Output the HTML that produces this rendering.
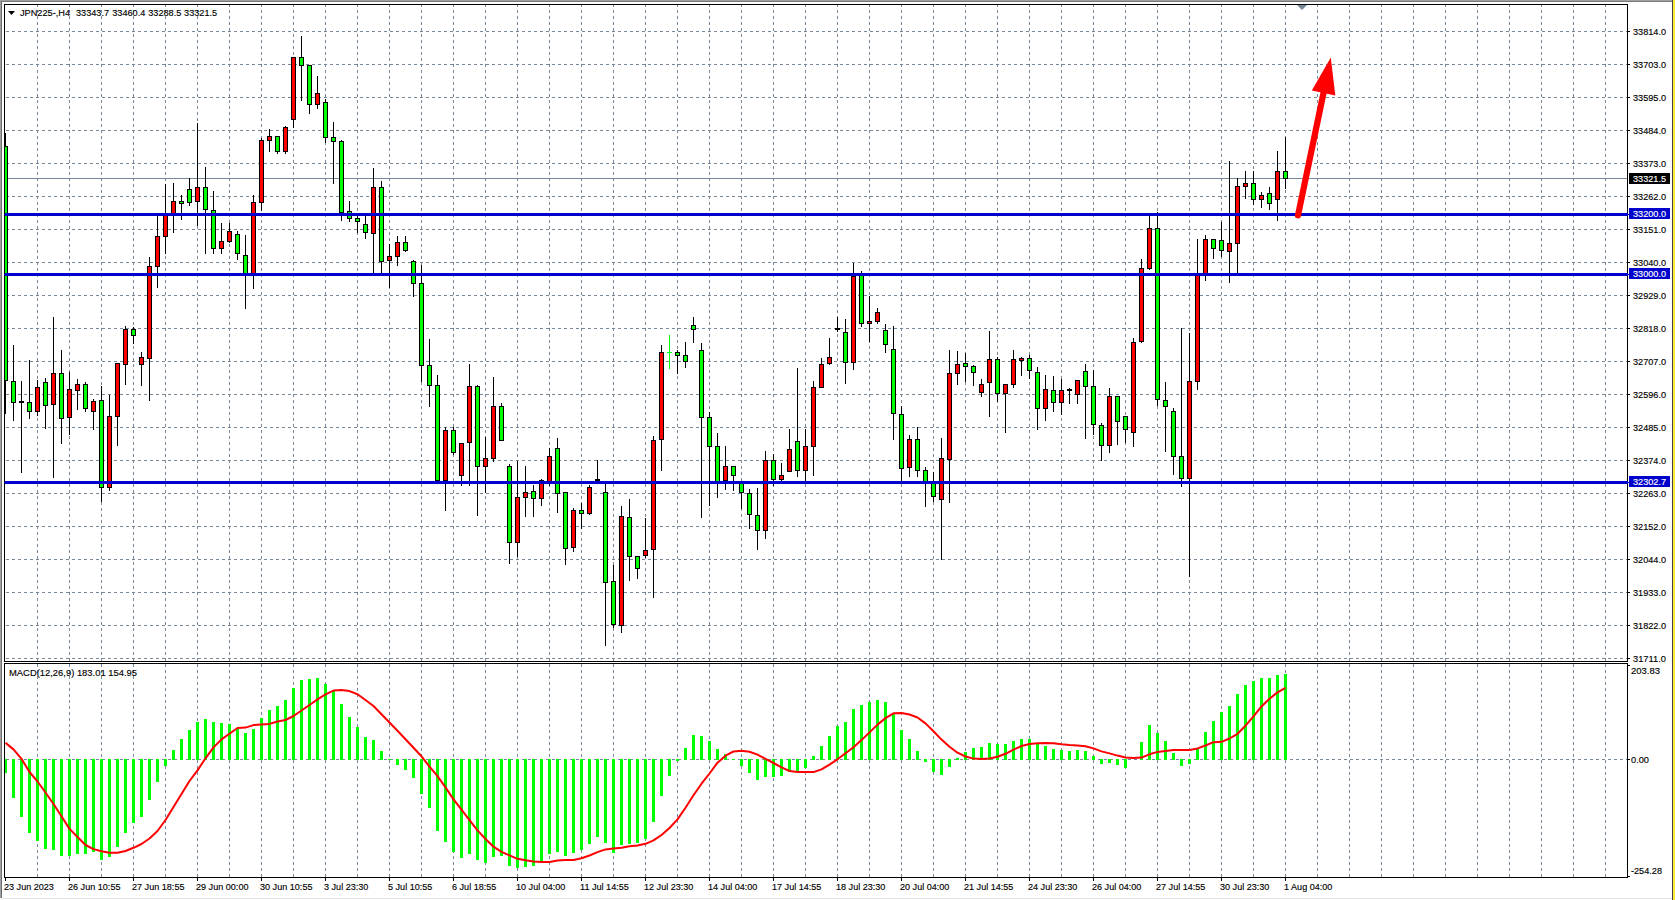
<!DOCTYPE html>
<html><head><meta charset="utf-8"><style>html,body{margin:0;padding:0;background:#fff;overflow:hidden}svg{display:block}</style></head>
<body><svg width="1675" height="900" viewBox="0 0 1675 900"><rect x="0" y="0" width="1675" height="900" fill="#ffffff"/>
<rect x="0" y="0" width="1675" height="1" fill="#a0a0a0"/>
<rect x="0" y="1" width="1672" height="1" fill="#7a7a7a"/>
<rect x="0" y="0" width="1" height="898" fill="#a0a0a0"/>
<rect x="1" y="1" width="1" height="897" fill="#6e6e6e"/>
<rect x="2" y="898" width="1670" height="1" fill="#e3e3e3"/>
<rect x="1672" y="0" width="1" height="900" fill="#44464c"/>
<rect x="1673" y="0" width="2" height="900" fill="#ffe838"/>
<g stroke="#778899" stroke-width="1" stroke-dasharray="3 3" shape-rendering="crispEdges"><line x1="37.5" y1="4" x2="37.5" y2="661" /><line x1="37.5" y1="664" x2="37.5" y2="877" /><line x1="69.5" y1="4" x2="69.5" y2="661" /><line x1="69.5" y1="664" x2="69.5" y2="877" /><line x1="101.5" y1="4" x2="101.5" y2="661" /><line x1="101.5" y1="664" x2="101.5" y2="877" /><line x1="133.5" y1="4" x2="133.5" y2="661" /><line x1="133.5" y1="664" x2="133.5" y2="877" /><line x1="165.5" y1="4" x2="165.5" y2="661" /><line x1="165.5" y1="664" x2="165.5" y2="877" /><line x1="197.5" y1="4" x2="197.5" y2="661" /><line x1="197.5" y1="664" x2="197.5" y2="877" /><line x1="229.5" y1="4" x2="229.5" y2="661" /><line x1="229.5" y1="664" x2="229.5" y2="877" /><line x1="261.5" y1="4" x2="261.5" y2="661" /><line x1="261.5" y1="664" x2="261.5" y2="877" /><line x1="293.5" y1="4" x2="293.5" y2="661" /><line x1="293.5" y1="664" x2="293.5" y2="877" /><line x1="325.5" y1="4" x2="325.5" y2="661" /><line x1="325.5" y1="664" x2="325.5" y2="877" /><line x1="357.5" y1="4" x2="357.5" y2="661" /><line x1="357.5" y1="664" x2="357.5" y2="877" /><line x1="389.5" y1="4" x2="389.5" y2="661" /><line x1="389.5" y1="664" x2="389.5" y2="877" /><line x1="421.5" y1="4" x2="421.5" y2="661" /><line x1="421.5" y1="664" x2="421.5" y2="877" /><line x1="453.5" y1="4" x2="453.5" y2="661" /><line x1="453.5" y1="664" x2="453.5" y2="877" /><line x1="485.5" y1="4" x2="485.5" y2="661" /><line x1="485.5" y1="664" x2="485.5" y2="877" /><line x1="517.5" y1="4" x2="517.5" y2="661" /><line x1="517.5" y1="664" x2="517.5" y2="877" /><line x1="549.5" y1="4" x2="549.5" y2="661" /><line x1="549.5" y1="664" x2="549.5" y2="877" /><line x1="581.5" y1="4" x2="581.5" y2="661" /><line x1="581.5" y1="664" x2="581.5" y2="877" /><line x1="613.5" y1="4" x2="613.5" y2="661" /><line x1="613.5" y1="664" x2="613.5" y2="877" /><line x1="645.5" y1="4" x2="645.5" y2="661" /><line x1="645.5" y1="664" x2="645.5" y2="877" /><line x1="677.5" y1="4" x2="677.5" y2="661" /><line x1="677.5" y1="664" x2="677.5" y2="877" /><line x1="709.5" y1="4" x2="709.5" y2="661" /><line x1="709.5" y1="664" x2="709.5" y2="877" /><line x1="741.5" y1="4" x2="741.5" y2="661" /><line x1="741.5" y1="664" x2="741.5" y2="877" /><line x1="773.5" y1="4" x2="773.5" y2="661" /><line x1="773.5" y1="664" x2="773.5" y2="877" /><line x1="805.5" y1="4" x2="805.5" y2="661" /><line x1="805.5" y1="664" x2="805.5" y2="877" /><line x1="837.5" y1="4" x2="837.5" y2="661" /><line x1="837.5" y1="664" x2="837.5" y2="877" /><line x1="869.5" y1="4" x2="869.5" y2="661" /><line x1="869.5" y1="664" x2="869.5" y2="877" /><line x1="901.5" y1="4" x2="901.5" y2="661" /><line x1="901.5" y1="664" x2="901.5" y2="877" /><line x1="933.5" y1="4" x2="933.5" y2="661" /><line x1="933.5" y1="664" x2="933.5" y2="877" /><line x1="965.5" y1="4" x2="965.5" y2="661" /><line x1="965.5" y1="664" x2="965.5" y2="877" /><line x1="997.5" y1="4" x2="997.5" y2="661" /><line x1="997.5" y1="664" x2="997.5" y2="877" /><line x1="1029.5" y1="4" x2="1029.5" y2="661" /><line x1="1029.5" y1="664" x2="1029.5" y2="877" /><line x1="1061.5" y1="4" x2="1061.5" y2="661" /><line x1="1061.5" y1="664" x2="1061.5" y2="877" /><line x1="1093.5" y1="4" x2="1093.5" y2="661" /><line x1="1093.5" y1="664" x2="1093.5" y2="877" /><line x1="1125.5" y1="4" x2="1125.5" y2="661" /><line x1="1125.5" y1="664" x2="1125.5" y2="877" /><line x1="1157.5" y1="4" x2="1157.5" y2="661" /><line x1="1157.5" y1="664" x2="1157.5" y2="877" /><line x1="1189.5" y1="4" x2="1189.5" y2="661" /><line x1="1189.5" y1="664" x2="1189.5" y2="877" /><line x1="1221.5" y1="4" x2="1221.5" y2="661" /><line x1="1221.5" y1="664" x2="1221.5" y2="877" /><line x1="1253.5" y1="4" x2="1253.5" y2="661" /><line x1="1253.5" y1="664" x2="1253.5" y2="877" /><line x1="1285.5" y1="4" x2="1285.5" y2="661" /><line x1="1285.5" y1="664" x2="1285.5" y2="877" /><line x1="1317.5" y1="4" x2="1317.5" y2="661" /><line x1="1317.5" y1="664" x2="1317.5" y2="877" /><line x1="1349.5" y1="4" x2="1349.5" y2="661" /><line x1="1349.5" y1="664" x2="1349.5" y2="877" /><line x1="1381.5" y1="4" x2="1381.5" y2="661" /><line x1="1381.5" y1="664" x2="1381.5" y2="877" /><line x1="1413.5" y1="4" x2="1413.5" y2="661" /><line x1="1413.5" y1="664" x2="1413.5" y2="877" /><line x1="1445.5" y1="4" x2="1445.5" y2="661" /><line x1="1445.5" y1="664" x2="1445.5" y2="877" /><line x1="1477.5" y1="4" x2="1477.5" y2="661" /><line x1="1477.5" y1="664" x2="1477.5" y2="877" /><line x1="1509.5" y1="4" x2="1509.5" y2="661" /><line x1="1509.5" y1="664" x2="1509.5" y2="877" /><line x1="1541.5" y1="4" x2="1541.5" y2="661" /><line x1="1541.5" y1="664" x2="1541.5" y2="877" /><line x1="1573.5" y1="4" x2="1573.5" y2="661" /><line x1="1573.5" y1="664" x2="1573.5" y2="877" /><line x1="1605.5" y1="4" x2="1605.5" y2="661" /><line x1="1605.5" y1="664" x2="1605.5" y2="877" /><line x1="6" y1="31.5" x2="1627" y2="31.5" /><line x1="6" y1="64.5" x2="1627" y2="64.5" /><line x1="6" y1="97.5" x2="1627" y2="97.5" /><line x1="6" y1="130.5" x2="1627" y2="130.5" /><line x1="6" y1="163.5" x2="1627" y2="163.5" /><line x1="6" y1="196.5" x2="1627" y2="196.5" /><line x1="6" y1="229.5" x2="1627" y2="229.5" /><line x1="6" y1="262.5" x2="1627" y2="262.5" /><line x1="6" y1="295.5" x2="1627" y2="295.5" /><line x1="6" y1="328.5" x2="1627" y2="328.5" /><line x1="6" y1="361.5" x2="1627" y2="361.5" /><line x1="6" y1="394.5" x2="1627" y2="394.5" /><line x1="6" y1="427.5" x2="1627" y2="427.5" /><line x1="6" y1="460.5" x2="1627" y2="460.5" /><line x1="6" y1="493.5" x2="1627" y2="493.5" /><line x1="6" y1="526.5" x2="1627" y2="526.5" /><line x1="6" y1="559.5" x2="1627" y2="559.5" /><line x1="6" y1="592.5" x2="1627" y2="592.5" /><line x1="6" y1="625.5" x2="1627" y2="625.5" /><line x1="6" y1="658.5" x2="1627" y2="658.5" /><line x1="6" y1="759.5" x2="1627" y2="759.5" /></g>
<defs><clipPath id="cm"><rect x="5" y="5" width="1622" height="656"/></clipPath><clipPath id="cd"><rect x="5" y="664" width="1622" height="213"/></clipPath></defs>
<rect x="5" y="178" width="1622" height="1" fill="#778899"/>
<g clip-path="url(#cm)">
<g shape-rendering="crispEdges"><rect x="5" y="133" width="1" height="281" fill="#000"/><rect x="3" y="146" width="5" height="235" fill="#000"/><rect x="4" y="147" width="3" height="233" fill="#00ff00"/><rect x="13" y="345" width="1" height="76" fill="#000"/><rect x="11" y="381" width="5" height="22" fill="#000"/><rect x="12" y="382" width="3" height="20" fill="#00ff00"/><rect x="21" y="381" width="1" height="92" fill="#000"/><rect x="19" y="401" width="5" height="2" fill="#000"/><rect x="29" y="360" width="1" height="59" fill="#000"/><rect x="27" y="402" width="5" height="10" fill="#000"/><rect x="28" y="403" width="3" height="8" fill="#00ff00"/><rect x="37" y="380" width="1" height="36" fill="#000"/><rect x="35" y="387" width="5" height="25" fill="#000"/><rect x="36" y="388" width="3" height="23" fill="#ff0000"/><rect x="45" y="378" width="1" height="51" fill="#000"/><rect x="43" y="382" width="5" height="24" fill="#000"/><rect x="44" y="383" width="3" height="22" fill="#00ff00"/><rect x="53" y="317" width="1" height="161" fill="#000"/><rect x="51" y="373" width="5" height="32" fill="#000"/><rect x="52" y="374" width="3" height="30" fill="#ff0000"/><rect x="61" y="350" width="1" height="94" fill="#000"/><rect x="59" y="373" width="5" height="46" fill="#000"/><rect x="60" y="374" width="3" height="44" fill="#00ff00"/><rect x="69" y="372" width="1" height="63" fill="#000"/><rect x="67" y="389" width="5" height="29" fill="#000"/><rect x="68" y="390" width="3" height="27" fill="#ff0000"/><rect x="77" y="379" width="1" height="31" fill="#000"/><rect x="75" y="384" width="5" height="7" fill="#000"/><rect x="76" y="385" width="3" height="5" fill="#ff0000"/><rect x="85" y="382" width="1" height="30" fill="#000"/><rect x="83" y="384" width="5" height="25" fill="#000"/><rect x="84" y="385" width="3" height="23" fill="#00ff00"/><rect x="93" y="399" width="1" height="31" fill="#000"/><rect x="91" y="401" width="5" height="11" fill="#000"/><rect x="92" y="402" width="3" height="9" fill="#ff0000"/><rect x="101" y="386" width="1" height="116" fill="#000"/><rect x="99" y="400" width="5" height="88" fill="#000"/><rect x="100" y="401" width="3" height="86" fill="#00ff00"/><rect x="109" y="395" width="1" height="96" fill="#000"/><rect x="107" y="416" width="5" height="72" fill="#000"/><rect x="108" y="417" width="3" height="70" fill="#ff0000"/><rect x="117" y="363" width="1" height="83" fill="#000"/><rect x="115" y="363" width="5" height="54" fill="#000"/><rect x="116" y="364" width="3" height="52" fill="#ff0000"/><rect x="125" y="326" width="1" height="59" fill="#000"/><rect x="123" y="329" width="5" height="36" fill="#000"/><rect x="124" y="330" width="3" height="34" fill="#ff0000"/><rect x="133" y="327" width="1" height="17" fill="#000"/><rect x="131" y="329" width="5" height="7" fill="#000"/><rect x="132" y="330" width="3" height="5" fill="#00ff00"/><rect x="141" y="352" width="1" height="34" fill="#000"/><rect x="139" y="357" width="5" height="8" fill="#000"/><rect x="140" y="358" width="3" height="6" fill="#ff0000"/><rect x="149" y="257" width="1" height="144" fill="#000"/><rect x="147" y="266" width="5" height="93" fill="#000"/><rect x="148" y="267" width="3" height="91" fill="#ff0000"/><rect x="157" y="216" width="1" height="72" fill="#000"/><rect x="155" y="236" width="5" height="31" fill="#000"/><rect x="156" y="237" width="3" height="29" fill="#ff0000"/><rect x="165" y="184" width="1" height="70" fill="#000"/><rect x="163" y="215" width="5" height="22" fill="#000"/><rect x="164" y="216" width="3" height="20" fill="#ff0000"/><rect x="173" y="183" width="1" height="50" fill="#000"/><rect x="171" y="201" width="5" height="14" fill="#000"/><rect x="172" y="202" width="3" height="12" fill="#ff0000"/><rect x="181" y="195" width="1" height="25" fill="#000"/><rect x="179" y="201" width="5" height="3" fill="#000"/><rect x="180" y="202" width="3" height="1" fill="#00ff00"/><rect x="189" y="178" width="1" height="28" fill="#000"/><rect x="187" y="189" width="5" height="14" fill="#000"/><rect x="188" y="190" width="3" height="12" fill="#00ff00"/><rect x="197" y="123" width="1" height="103" fill="#000"/><rect x="195" y="187" width="5" height="15" fill="#000"/><rect x="196" y="188" width="3" height="13" fill="#ff0000"/><rect x="205" y="167" width="1" height="87" fill="#000"/><rect x="203" y="187" width="5" height="23" fill="#000"/><rect x="204" y="188" width="3" height="21" fill="#00ff00"/><rect x="213" y="191" width="1" height="63" fill="#000"/><rect x="211" y="210" width="5" height="39" fill="#000"/><rect x="212" y="211" width="3" height="37" fill="#00ff00"/><rect x="221" y="223" width="1" height="31" fill="#000"/><rect x="219" y="241" width="5" height="8" fill="#000"/><rect x="220" y="242" width="3" height="6" fill="#ff0000"/><rect x="229" y="223" width="1" height="20" fill="#000"/><rect x="227" y="231" width="5" height="11" fill="#000"/><rect x="228" y="232" width="3" height="9" fill="#ff0000"/><rect x="237" y="231" width="1" height="29" fill="#000"/><rect x="235" y="234" width="5" height="20" fill="#000"/><rect x="236" y="235" width="3" height="18" fill="#00ff00"/><rect x="245" y="235" width="1" height="74" fill="#000"/><rect x="243" y="255" width="5" height="19" fill="#000"/><rect x="244" y="256" width="3" height="17" fill="#00ff00"/><rect x="253" y="195" width="1" height="94" fill="#000"/><rect x="251" y="202" width="5" height="72" fill="#000"/><rect x="252" y="203" width="3" height="70" fill="#ff0000"/><rect x="261" y="138" width="1" height="73" fill="#000"/><rect x="259" y="140" width="5" height="63" fill="#000"/><rect x="260" y="141" width="3" height="61" fill="#ff0000"/><rect x="269" y="129" width="1" height="23" fill="#000"/><rect x="267" y="136" width="5" height="5" fill="#000"/><rect x="268" y="137" width="3" height="3" fill="#ff0000"/><rect x="277" y="136" width="1" height="18" fill="#000"/><rect x="275" y="136" width="5" height="16" fill="#000"/><rect x="276" y="137" width="3" height="14" fill="#00ff00"/><rect x="285" y="126" width="1" height="28" fill="#000"/><rect x="283" y="127" width="5" height="25" fill="#000"/><rect x="284" y="128" width="3" height="23" fill="#ff0000"/><rect x="293" y="57" width="1" height="71" fill="#000"/><rect x="291" y="57" width="5" height="63" fill="#000"/><rect x="292" y="58" width="3" height="61" fill="#ff0000"/><rect x="301" y="36" width="1" height="65" fill="#000"/><rect x="299" y="57" width="5" height="9" fill="#000"/><rect x="300" y="58" width="3" height="7" fill="#00ff00"/><rect x="309" y="65" width="1" height="49" fill="#000"/><rect x="307" y="65" width="5" height="40" fill="#000"/><rect x="308" y="66" width="3" height="38" fill="#00ff00"/><rect x="317" y="76" width="1" height="33" fill="#000"/><rect x="315" y="93" width="5" height="12" fill="#000"/><rect x="316" y="94" width="3" height="10" fill="#ff0000"/><rect x="325" y="99" width="1" height="44" fill="#000"/><rect x="323" y="102" width="5" height="36" fill="#000"/><rect x="324" y="103" width="3" height="34" fill="#00ff00"/><rect x="333" y="122" width="1" height="62" fill="#000"/><rect x="331" y="137" width="5" height="5" fill="#000"/><rect x="332" y="138" width="3" height="3" fill="#00ff00"/><rect x="341" y="140" width="1" height="81" fill="#000"/><rect x="339" y="141" width="5" height="72" fill="#000"/><rect x="340" y="142" width="3" height="70" fill="#00ff00"/><rect x="349" y="201" width="1" height="21" fill="#000"/><rect x="347" y="211" width="5" height="8" fill="#000"/><rect x="348" y="212" width="3" height="6" fill="#00ff00"/><rect x="357" y="214" width="1" height="19" fill="#000"/><rect x="355" y="218" width="5" height="4" fill="#000"/><rect x="356" y="219" width="3" height="2" fill="#00ff00"/><rect x="365" y="215" width="1" height="24" fill="#000"/><rect x="363" y="224" width="5" height="9" fill="#000"/><rect x="364" y="225" width="3" height="7" fill="#00ff00"/><rect x="373" y="168" width="1" height="106" fill="#000"/><rect x="371" y="187" width="5" height="47" fill="#000"/><rect x="372" y="188" width="3" height="45" fill="#ff0000"/><rect x="381" y="181" width="1" height="93" fill="#000"/><rect x="379" y="187" width="5" height="75" fill="#000"/><rect x="380" y="188" width="3" height="73" fill="#00ff00"/><rect x="389" y="244" width="1" height="44" fill="#000"/><rect x="387" y="256" width="5" height="5" fill="#000"/><rect x="388" y="257" width="3" height="3" fill="#ff0000"/><rect x="397" y="236" width="1" height="30" fill="#000"/><rect x="395" y="242" width="5" height="15" fill="#000"/><rect x="396" y="243" width="3" height="13" fill="#ff0000"/><rect x="405" y="236" width="1" height="16" fill="#000"/><rect x="403" y="242" width="5" height="9" fill="#000"/><rect x="404" y="243" width="3" height="7" fill="#00ff00"/><rect x="413" y="260" width="1" height="37" fill="#000"/><rect x="411" y="261" width="5" height="23" fill="#000"/><rect x="412" y="262" width="3" height="21" fill="#00ff00"/><rect x="421" y="265" width="1" height="117" fill="#000"/><rect x="419" y="283" width="5" height="83" fill="#000"/><rect x="420" y="284" width="3" height="81" fill="#00ff00"/><rect x="429" y="339" width="1" height="68" fill="#000"/><rect x="427" y="365" width="5" height="21" fill="#000"/><rect x="428" y="366" width="3" height="19" fill="#00ff00"/><rect x="437" y="375" width="1" height="106" fill="#000"/><rect x="435" y="385" width="5" height="96" fill="#000"/><rect x="436" y="386" width="3" height="94" fill="#00ff00"/><rect x="445" y="427" width="1" height="84" fill="#000"/><rect x="443" y="430" width="5" height="51" fill="#000"/><rect x="444" y="431" width="3" height="49" fill="#ff0000"/><rect x="453" y="427" width="1" height="28" fill="#000"/><rect x="451" y="430" width="5" height="23" fill="#000"/><rect x="452" y="431" width="3" height="21" fill="#00ff00"/><rect x="461" y="443" width="1" height="43" fill="#000"/><rect x="459" y="443" width="5" height="33" fill="#000"/><rect x="460" y="444" width="3" height="31" fill="#ff0000"/><rect x="469" y="364" width="1" height="122" fill="#000"/><rect x="467" y="386" width="5" height="57" fill="#000"/><rect x="468" y="387" width="3" height="55" fill="#ff0000"/><rect x="477" y="385" width="1" height="131" fill="#000"/><rect x="475" y="386" width="5" height="81" fill="#000"/><rect x="476" y="387" width="3" height="79" fill="#00ff00"/><rect x="485" y="437" width="1" height="56" fill="#000"/><rect x="483" y="458" width="5" height="9" fill="#000"/><rect x="484" y="459" width="3" height="7" fill="#ff0000"/><rect x="493" y="377" width="1" height="85" fill="#000"/><rect x="491" y="406" width="5" height="53" fill="#000"/><rect x="492" y="407" width="3" height="51" fill="#ff0000"/><rect x="501" y="403" width="1" height="38" fill="#000"/><rect x="499" y="406" width="5" height="35" fill="#000"/><rect x="500" y="407" width="3" height="33" fill="#00ff00"/><rect x="509" y="464" width="1" height="100" fill="#000"/><rect x="507" y="466" width="5" height="77" fill="#000"/><rect x="508" y="467" width="3" height="75" fill="#00ff00"/><rect x="517" y="461" width="1" height="96" fill="#000"/><rect x="515" y="497" width="5" height="46" fill="#000"/><rect x="516" y="498" width="3" height="44" fill="#ff0000"/><rect x="525" y="466" width="1" height="51" fill="#000"/><rect x="523" y="492" width="5" height="6" fill="#000"/><rect x="524" y="493" width="3" height="4" fill="#ff0000"/><rect x="533" y="485" width="1" height="32" fill="#000"/><rect x="531" y="491" width="5" height="8" fill="#000"/><rect x="532" y="492" width="3" height="6" fill="#00ff00"/><rect x="541" y="479" width="1" height="27" fill="#000"/><rect x="539" y="480" width="5" height="19" fill="#000"/><rect x="540" y="481" width="3" height="17" fill="#ff0000"/><rect x="549" y="448" width="1" height="38" fill="#000"/><rect x="547" y="456" width="5" height="26" fill="#000"/><rect x="548" y="457" width="3" height="24" fill="#ff0000"/><rect x="557" y="438" width="1" height="75" fill="#000"/><rect x="555" y="448" width="5" height="46" fill="#000"/><rect x="556" y="449" width="3" height="44" fill="#00ff00"/><rect x="565" y="492" width="1" height="73" fill="#000"/><rect x="563" y="492" width="5" height="57" fill="#000"/><rect x="564" y="493" width="3" height="55" fill="#00ff00"/><rect x="573" y="508" width="1" height="44" fill="#000"/><rect x="571" y="510" width="5" height="38" fill="#000"/><rect x="572" y="511" width="3" height="36" fill="#ff0000"/><rect x="581" y="503" width="1" height="26" fill="#000"/><rect x="579" y="510" width="5" height="4" fill="#000"/><rect x="580" y="511" width="3" height="2" fill="#00ff00"/><rect x="589" y="485" width="1" height="30" fill="#000"/><rect x="587" y="487" width="5" height="27" fill="#000"/><rect x="588" y="488" width="3" height="25" fill="#ff0000"/><rect x="597" y="460" width="1" height="21" fill="#000"/><rect x="595" y="479" width="5" height="2" fill="#000"/><rect x="605" y="484" width="1" height="162" fill="#000"/><rect x="603" y="492" width="5" height="91" fill="#000"/><rect x="604" y="493" width="3" height="89" fill="#00ff00"/><rect x="613" y="565" width="1" height="63" fill="#000"/><rect x="611" y="581" width="5" height="44" fill="#000"/><rect x="612" y="582" width="3" height="42" fill="#00ff00"/><rect x="621" y="506" width="1" height="127" fill="#000"/><rect x="619" y="516" width="5" height="110" fill="#000"/><rect x="620" y="517" width="3" height="108" fill="#ff0000"/><rect x="629" y="499" width="1" height="82" fill="#000"/><rect x="627" y="517" width="5" height="40" fill="#000"/><rect x="628" y="518" width="3" height="38" fill="#00ff00"/><rect x="637" y="556" width="1" height="23" fill="#000"/><rect x="635" y="556" width="5" height="13" fill="#000"/><rect x="636" y="557" width="3" height="11" fill="#00ff00"/><rect x="645" y="518" width="1" height="40" fill="#000"/><rect x="643" y="550" width="5" height="6" fill="#000"/><rect x="644" y="551" width="3" height="4" fill="#ff0000"/><rect x="653" y="436" width="1" height="162" fill="#000"/><rect x="651" y="440" width="5" height="110" fill="#000"/><rect x="652" y="441" width="3" height="108" fill="#ff0000"/><rect x="661" y="345" width="1" height="126" fill="#000"/><rect x="659" y="352" width="5" height="88" fill="#000"/><rect x="660" y="353" width="3" height="86" fill="#ff0000"/><rect x="669" y="335" width="1" height="34" fill="#00ff00"/><rect x="667" y="352" width="5" height="1" fill="#00ff00"/><rect x="677" y="350" width="1" height="24" fill="#000"/><rect x="675" y="352" width="5" height="4" fill="#000"/><rect x="676" y="353" width="3" height="2" fill="#00ff00"/><rect x="685" y="342" width="1" height="26" fill="#000"/><rect x="683" y="355" width="5" height="7" fill="#000"/><rect x="684" y="356" width="3" height="5" fill="#00ff00"/><rect x="693" y="317" width="1" height="26" fill="#000"/><rect x="691" y="325" width="5" height="5" fill="#000"/><rect x="692" y="326" width="3" height="3" fill="#00ff00"/><rect x="701" y="343" width="1" height="175" fill="#000"/><rect x="699" y="350" width="5" height="68" fill="#000"/><rect x="700" y="351" width="3" height="66" fill="#00ff00"/><rect x="709" y="412" width="1" height="94" fill="#000"/><rect x="707" y="417" width="5" height="30" fill="#000"/><rect x="708" y="418" width="3" height="28" fill="#00ff00"/><rect x="717" y="433" width="1" height="65" fill="#000"/><rect x="715" y="446" width="5" height="36" fill="#000"/><rect x="716" y="447" width="3" height="34" fill="#00ff00"/><rect x="725" y="446" width="1" height="44" fill="#000"/><rect x="723" y="466" width="5" height="15" fill="#000"/><rect x="724" y="467" width="3" height="13" fill="#ff0000"/><rect x="733" y="466" width="1" height="25" fill="#000"/><rect x="731" y="466" width="5" height="10" fill="#000"/><rect x="732" y="467" width="3" height="8" fill="#00ff00"/><rect x="741" y="484" width="1" height="25" fill="#000"/><rect x="739" y="483" width="5" height="10" fill="#000"/><rect x="740" y="484" width="3" height="8" fill="#00ff00"/><rect x="749" y="489" width="1" height="40" fill="#000"/><rect x="747" y="493" width="5" height="22" fill="#000"/><rect x="748" y="494" width="3" height="20" fill="#00ff00"/><rect x="757" y="488" width="1" height="62" fill="#000"/><rect x="755" y="515" width="5" height="16" fill="#000"/><rect x="756" y="516" width="3" height="14" fill="#00ff00"/><rect x="765" y="451" width="1" height="88" fill="#000"/><rect x="763" y="460" width="5" height="71" fill="#000"/><rect x="764" y="461" width="3" height="69" fill="#ff0000"/><rect x="773" y="454" width="1" height="32" fill="#000"/><rect x="771" y="460" width="5" height="20" fill="#000"/><rect x="772" y="461" width="3" height="18" fill="#00ff00"/><rect x="781" y="463" width="1" height="18" fill="#000"/><rect x="779" y="475" width="5" height="5" fill="#000"/><rect x="780" y="476" width="3" height="3" fill="#ff0000"/><rect x="789" y="429" width="1" height="42" fill="#000"/><rect x="787" y="449" width="5" height="23" fill="#000"/><rect x="788" y="450" width="3" height="21" fill="#ff0000"/><rect x="797" y="368" width="1" height="109" fill="#000"/><rect x="795" y="441" width="5" height="30" fill="#000"/><rect x="796" y="442" width="3" height="28" fill="#00ff00"/><rect x="805" y="429" width="1" height="52" fill="#000"/><rect x="803" y="446" width="5" height="25" fill="#000"/><rect x="804" y="447" width="3" height="23" fill="#ff0000"/><rect x="813" y="381" width="1" height="95" fill="#000"/><rect x="811" y="387" width="5" height="60" fill="#000"/><rect x="812" y="388" width="3" height="58" fill="#ff0000"/><rect x="821" y="358" width="1" height="30" fill="#000"/><rect x="819" y="364" width="5" height="24" fill="#000"/><rect x="820" y="365" width="3" height="22" fill="#ff0000"/><rect x="829" y="338" width="1" height="27" fill="#000"/><rect x="827" y="357" width="5" height="7" fill="#000"/><rect x="828" y="358" width="3" height="5" fill="#ff0000"/><rect x="837" y="317" width="1" height="15" fill="#000"/><rect x="835" y="328" width="5" height="2" fill="#000"/><rect x="845" y="319" width="1" height="65" fill="#000"/><rect x="843" y="332" width="5" height="31" fill="#000"/><rect x="844" y="333" width="3" height="29" fill="#00ff00"/><rect x="853" y="263" width="1" height="107" fill="#000"/><rect x="851" y="276" width="5" height="87" fill="#000"/><rect x="852" y="277" width="3" height="85" fill="#ff0000"/><rect x="861" y="271" width="1" height="56" fill="#000"/><rect x="859" y="275" width="5" height="49" fill="#000"/><rect x="860" y="276" width="3" height="47" fill="#00ff00"/><rect x="869" y="296" width="1" height="46" fill="#000"/><rect x="867" y="321" width="5" height="3" fill="#000"/><rect x="868" y="322" width="3" height="1" fill="#ff0000"/><rect x="877" y="308" width="1" height="16" fill="#000"/><rect x="875" y="312" width="5" height="10" fill="#000"/><rect x="876" y="313" width="3" height="8" fill="#ff0000"/><rect x="885" y="324" width="1" height="29" fill="#000"/><rect x="883" y="330" width="5" height="15" fill="#000"/><rect x="884" y="331" width="3" height="13" fill="#00ff00"/><rect x="893" y="326" width="1" height="114" fill="#000"/><rect x="891" y="349" width="5" height="65" fill="#000"/><rect x="892" y="350" width="3" height="63" fill="#00ff00"/><rect x="901" y="406" width="1" height="75" fill="#000"/><rect x="899" y="414" width="5" height="55" fill="#000"/><rect x="900" y="415" width="3" height="53" fill="#00ff00"/><rect x="909" y="435" width="1" height="42" fill="#000"/><rect x="907" y="439" width="5" height="29" fill="#000"/><rect x="908" y="440" width="3" height="27" fill="#ff0000"/><rect x="917" y="427" width="1" height="50" fill="#000"/><rect x="915" y="439" width="5" height="32" fill="#000"/><rect x="916" y="440" width="3" height="30" fill="#00ff00"/><rect x="925" y="467" width="1" height="40" fill="#000"/><rect x="923" y="470" width="5" height="12" fill="#000"/><rect x="924" y="471" width="3" height="10" fill="#00ff00"/><rect x="933" y="472" width="1" height="30" fill="#000"/><rect x="931" y="481" width="5" height="16" fill="#000"/><rect x="932" y="482" width="3" height="14" fill="#00ff00"/><rect x="941" y="438" width="1" height="122" fill="#000"/><rect x="939" y="458" width="5" height="42" fill="#000"/><rect x="940" y="459" width="3" height="40" fill="#ff0000"/><rect x="949" y="350" width="1" height="153" fill="#000"/><rect x="947" y="373" width="5" height="87" fill="#000"/><rect x="948" y="374" width="3" height="85" fill="#ff0000"/><rect x="957" y="351" width="1" height="34" fill="#000"/><rect x="955" y="364" width="5" height="10" fill="#000"/><rect x="956" y="365" width="3" height="8" fill="#ff0000"/><rect x="965" y="353" width="1" height="29" fill="#000"/><rect x="963" y="363" width="5" height="4" fill="#000"/><rect x="964" y="364" width="3" height="2" fill="#00ff00"/><rect x="973" y="365" width="1" height="21" fill="#000"/><rect x="971" y="366" width="5" height="7" fill="#000"/><rect x="972" y="367" width="3" height="5" fill="#00ff00"/><rect x="981" y="379" width="1" height="18" fill="#000"/><rect x="979" y="384" width="5" height="9" fill="#000"/><rect x="980" y="385" width="3" height="7" fill="#ff0000"/><rect x="989" y="331" width="1" height="86" fill="#000"/><rect x="987" y="359" width="5" height="24" fill="#000"/><rect x="988" y="360" width="3" height="22" fill="#ff0000"/><rect x="997" y="357" width="1" height="45" fill="#000"/><rect x="995" y="359" width="5" height="35" fill="#000"/><rect x="996" y="360" width="3" height="33" fill="#00ff00"/><rect x="1005" y="384" width="1" height="49" fill="#000"/><rect x="1003" y="384" width="5" height="10" fill="#000"/><rect x="1004" y="385" width="3" height="8" fill="#ff0000"/><rect x="1013" y="350" width="1" height="38" fill="#000"/><rect x="1011" y="359" width="5" height="26" fill="#000"/><rect x="1012" y="360" width="3" height="24" fill="#ff0000"/><rect x="1021" y="357" width="1" height="19" fill="#000"/><rect x="1019" y="358" width="5" height="3" fill="#000"/><rect x="1020" y="359" width="3" height="1" fill="#ff0000"/><rect x="1029" y="355" width="1" height="24" fill="#000"/><rect x="1027" y="358" width="5" height="13" fill="#000"/><rect x="1028" y="359" width="3" height="11" fill="#00ff00"/><rect x="1037" y="367" width="1" height="63" fill="#000"/><rect x="1035" y="372" width="5" height="37" fill="#000"/><rect x="1036" y="373" width="3" height="35" fill="#00ff00"/><rect x="1045" y="375" width="1" height="46" fill="#000"/><rect x="1043" y="389" width="5" height="20" fill="#000"/><rect x="1044" y="390" width="3" height="18" fill="#ff0000"/><rect x="1053" y="376" width="1" height="36" fill="#000"/><rect x="1051" y="390" width="5" height="13" fill="#000"/><rect x="1052" y="391" width="3" height="11" fill="#00ff00"/><rect x="1061" y="379" width="1" height="36" fill="#000"/><rect x="1059" y="390" width="5" height="13" fill="#000"/><rect x="1060" y="391" width="3" height="11" fill="#ff0000"/><rect x="1069" y="388" width="1" height="16" fill="#000"/><rect x="1067" y="389" width="5" height="2" fill="#000"/><rect x="1077" y="380" width="1" height="24" fill="#000"/><rect x="1075" y="380" width="5" height="15" fill="#000"/><rect x="1076" y="381" width="3" height="13" fill="#ff0000"/><rect x="1085" y="364" width="1" height="75" fill="#000"/><rect x="1083" y="371" width="5" height="16" fill="#000"/><rect x="1084" y="372" width="3" height="14" fill="#00ff00"/><rect x="1093" y="370" width="1" height="65" fill="#000"/><rect x="1091" y="386" width="5" height="39" fill="#000"/><rect x="1092" y="387" width="3" height="37" fill="#00ff00"/><rect x="1101" y="423" width="1" height="38" fill="#000"/><rect x="1099" y="425" width="5" height="21" fill="#000"/><rect x="1100" y="426" width="3" height="19" fill="#00ff00"/><rect x="1109" y="388" width="1" height="65" fill="#000"/><rect x="1107" y="396" width="5" height="50" fill="#000"/><rect x="1108" y="397" width="3" height="48" fill="#ff0000"/><rect x="1117" y="396" width="1" height="49" fill="#000"/><rect x="1115" y="396" width="5" height="26" fill="#000"/><rect x="1116" y="397" width="3" height="24" fill="#00ff00"/><rect x="1125" y="416" width="1" height="27" fill="#000"/><rect x="1123" y="416" width="5" height="14" fill="#000"/><rect x="1124" y="417" width="3" height="12" fill="#00ff00"/><rect x="1133" y="338" width="1" height="109" fill="#000"/><rect x="1131" y="342" width="5" height="91" fill="#000"/><rect x="1132" y="343" width="3" height="89" fill="#ff0000"/><rect x="1141" y="259" width="1" height="84" fill="#000"/><rect x="1139" y="268" width="5" height="74" fill="#000"/><rect x="1140" y="269" width="3" height="72" fill="#ff0000"/><rect x="1149" y="216" width="1" height="54" fill="#000"/><rect x="1147" y="228" width="5" height="41" fill="#000"/><rect x="1148" y="229" width="3" height="39" fill="#ff0000"/><rect x="1157" y="212" width="1" height="194" fill="#000"/><rect x="1155" y="228" width="5" height="172" fill="#000"/><rect x="1156" y="229" width="3" height="170" fill="#00ff00"/><rect x="1165" y="382" width="1" height="70" fill="#000"/><rect x="1163" y="400" width="5" height="7" fill="#000"/><rect x="1164" y="401" width="3" height="5" fill="#00ff00"/><rect x="1173" y="408" width="1" height="67" fill="#000"/><rect x="1171" y="411" width="5" height="46" fill="#000"/><rect x="1172" y="412" width="3" height="44" fill="#00ff00"/><rect x="1181" y="328" width="1" height="159" fill="#000"/><rect x="1179" y="456" width="5" height="23" fill="#000"/><rect x="1180" y="457" width="3" height="21" fill="#00ff00"/><rect x="1189" y="333" width="1" height="244" fill="#000"/><rect x="1187" y="381" width="5" height="98" fill="#000"/><rect x="1188" y="382" width="3" height="96" fill="#ff0000"/><rect x="1197" y="239" width="1" height="151" fill="#000"/><rect x="1195" y="275" width="5" height="107" fill="#000"/><rect x="1196" y="276" width="3" height="105" fill="#ff0000"/><rect x="1205" y="235" width="1" height="46" fill="#000"/><rect x="1203" y="239" width="5" height="35" fill="#000"/><rect x="1204" y="240" width="3" height="33" fill="#ff0000"/><rect x="1213" y="239" width="1" height="20" fill="#000"/><rect x="1211" y="239" width="5" height="10" fill="#000"/><rect x="1212" y="240" width="3" height="8" fill="#00ff00"/><rect x="1221" y="222" width="1" height="35" fill="#000"/><rect x="1219" y="240" width="5" height="11" fill="#000"/><rect x="1220" y="241" width="3" height="9" fill="#00ff00"/><rect x="1229" y="161" width="1" height="122" fill="#000"/><rect x="1227" y="243" width="5" height="9" fill="#000"/><rect x="1228" y="244" width="3" height="7" fill="#ff0000"/><rect x="1237" y="178" width="1" height="95" fill="#000"/><rect x="1235" y="186" width="5" height="58" fill="#000"/><rect x="1236" y="187" width="3" height="56" fill="#ff0000"/><rect x="1245" y="171" width="1" height="28" fill="#000"/><rect x="1243" y="183" width="5" height="4" fill="#000"/><rect x="1244" y="184" width="3" height="2" fill="#ff0000"/><rect x="1253" y="171" width="1" height="34" fill="#000"/><rect x="1251" y="183" width="5" height="17" fill="#000"/><rect x="1252" y="184" width="3" height="15" fill="#00ff00"/><rect x="1261" y="192" width="1" height="16" fill="#000"/><rect x="1259" y="195" width="5" height="5" fill="#000"/><rect x="1260" y="196" width="3" height="3" fill="#ff0000"/><rect x="1269" y="187" width="1" height="23" fill="#000"/><rect x="1267" y="193" width="5" height="11" fill="#000"/><rect x="1268" y="194" width="3" height="9" fill="#00ff00"/><rect x="1277" y="151" width="1" height="70" fill="#000"/><rect x="1275" y="171" width="5" height="29" fill="#000"/><rect x="1276" y="172" width="3" height="27" fill="#ff0000"/><rect x="1285" y="137" width="1" height="52" fill="#000"/><rect x="1283" y="171" width="5" height="8" fill="#000"/><rect x="1284" y="172" width="3" height="6" fill="#00ff00"/></g>
</g>
<g clip-path="url(#cd)">
<g fill="#00ff00" shape-rendering="crispEdges"><rect x="4" y="759" width="3" height="14"/><rect x="12" y="759" width="3" height="39"/><rect x="20" y="759" width="3" height="58"/><rect x="28" y="759" width="3" height="74"/><rect x="36" y="759" width="3" height="82"/><rect x="44" y="759" width="3" height="90"/><rect x="52" y="759" width="3" height="91"/><rect x="60" y="759" width="3" height="97"/><rect x="68" y="759" width="3" height="97"/><rect x="76" y="759" width="3" height="95"/><rect x="84" y="759" width="3" height="95"/><rect x="92" y="759" width="3" height="93"/><rect x="100" y="759" width="3" height="101"/><rect x="108" y="759" width="3" height="98"/><rect x="116" y="759" width="3" height="88"/><rect x="124" y="759" width="3" height="74"/><rect x="132" y="759" width="3" height="64"/><rect x="140" y="759" width="3" height="58"/><rect x="148" y="759" width="3" height="41"/><rect x="156" y="759" width="3" height="23"/><rect x="164" y="759" width="3" height="7"/><rect x="172" y="750" width="3" height="10"/><rect x="180" y="739" width="3" height="21"/><rect x="188" y="730" width="3" height="30"/><rect x="196" y="722" width="3" height="38"/><rect x="204" y="719" width="3" height="41"/><rect x="212" y="722" width="3" height="38"/><rect x="220" y="723" width="3" height="37"/><rect x="228" y="724" width="3" height="36"/><rect x="236" y="728" width="3" height="32"/><rect x="244" y="733" width="3" height="27"/><rect x="252" y="729" width="3" height="31"/><rect x="260" y="718" width="3" height="42"/><rect x="268" y="710" width="3" height="50"/><rect x="276" y="706" width="3" height="54"/><rect x="284" y="700" width="3" height="60"/><rect x="292" y="688" width="3" height="72"/><rect x="300" y="680" width="3" height="80"/><rect x="308" y="679" width="3" height="81"/><rect x="316" y="678" width="3" height="82"/><rect x="324" y="684" width="3" height="76"/><rect x="332" y="691" width="3" height="69"/><rect x="340" y="704" width="3" height="56"/><rect x="348" y="717" width="3" height="43"/><rect x="356" y="727" width="3" height="33"/><rect x="364" y="737" width="3" height="23"/><rect x="372" y="740" width="3" height="20"/><rect x="380" y="751" width="3" height="9"/><rect x="388" y="759" width="3" height="1"/><rect x="396" y="759" width="3" height="6"/><rect x="404" y="759" width="3" height="11"/><rect x="412" y="759" width="3" height="19"/><rect x="420" y="759" width="3" height="35"/><rect x="428" y="759" width="3" height="49"/><rect x="436" y="759" width="3" height="72"/><rect x="444" y="759" width="3" height="83"/><rect x="452" y="759" width="3" height="93"/><rect x="460" y="759" width="3" height="99"/><rect x="468" y="759" width="3" height="95"/><rect x="476" y="759" width="3" height="101"/><rect x="484" y="759" width="3" height="104"/><rect x="492" y="759" width="3" height="98"/><rect x="500" y="759" width="3" height="97"/><rect x="508" y="759" width="3" height="107"/><rect x="516" y="759" width="3" height="109"/><rect x="524" y="759" width="3" height="108"/><rect x="532" y="759" width="3" height="107"/><rect x="540" y="759" width="3" height="102"/><rect x="548" y="759" width="3" height="95"/><rect x="556" y="759" width="3" height="93"/><rect x="564" y="759" width="3" height="97"/><rect x="572" y="759" width="3" height="94"/><rect x="580" y="759" width="3" height="91"/><rect x="588" y="759" width="3" height="85"/><rect x="596" y="759" width="3" height="78"/><rect x="604" y="759" width="3" height="84"/><rect x="612" y="759" width="3" height="94"/><rect x="620" y="759" width="3" height="86"/><rect x="628" y="759" width="3" height="85"/><rect x="636" y="759" width="3" height="84"/><rect x="644" y="759" width="3" height="80"/><rect x="652" y="759" width="3" height="63"/><rect x="660" y="759" width="3" height="37"/><rect x="668" y="759" width="3" height="17"/><rect x="676" y="759" width="3" height="2"/><rect x="684" y="748" width="3" height="12"/><rect x="692" y="735" width="3" height="25"/><rect x="700" y="736" width="3" height="24"/><rect x="708" y="741" width="3" height="19"/><rect x="716" y="749" width="3" height="11"/><rect x="724" y="754" width="3" height="6"/><rect x="732" y="759" width="3" height="1"/><rect x="740" y="759" width="3" height="7"/><rect x="748" y="759" width="3" height="14"/><rect x="756" y="759" width="3" height="21"/><rect x="764" y="759" width="3" height="18"/><rect x="772" y="759" width="3" height="18"/><rect x="780" y="759" width="3" height="17"/><rect x="788" y="759" width="3" height="13"/><rect x="796" y="759" width="3" height="12"/><rect x="804" y="759" width="3" height="9"/><rect x="812" y="756" width="3" height="4"/><rect x="820" y="746" width="3" height="14"/><rect x="828" y="736" width="3" height="24"/><rect x="836" y="726" width="3" height="34"/><rect x="844" y="722" width="3" height="38"/><rect x="852" y="709" width="3" height="51"/><rect x="860" y="705" width="3" height="55"/><rect x="868" y="702" width="3" height="58"/><rect x="876" y="700" width="3" height="60"/><rect x="884" y="702" width="3" height="58"/><rect x="892" y="713" width="3" height="47"/><rect x="900" y="730" width="3" height="30"/><rect x="908" y="739" width="3" height="21"/><rect x="916" y="751" width="3" height="9"/><rect x="924" y="759" width="3" height="3"/><rect x="932" y="759" width="3" height="13"/><rect x="940" y="759" width="3" height="16"/><rect x="948" y="759" width="3" height="8"/><rect x="956" y="758" width="3" height="2"/><rect x="964" y="752" width="3" height="8"/><rect x="972" y="748" width="3" height="12"/><rect x="980" y="747" width="3" height="13"/><rect x="988" y="743" width="3" height="17"/><rect x="996" y="744" width="3" height="16"/><rect x="1004" y="744" width="3" height="16"/><rect x="1012" y="741" width="3" height="19"/><rect x="1020" y="739" width="3" height="21"/><rect x="1028" y="739" width="3" height="21"/><rect x="1036" y="744" width="3" height="16"/><rect x="1044" y="746" width="3" height="14"/><rect x="1052" y="749" width="3" height="11"/><rect x="1060" y="750" width="3" height="10"/><rect x="1068" y="751" width="3" height="9"/><rect x="1076" y="750" width="3" height="10"/><rect x="1084" y="751" width="3" height="9"/><rect x="1092" y="756" width="3" height="4"/><rect x="1100" y="759" width="3" height="5"/><rect x="1108" y="759" width="3" height="4"/><rect x="1116" y="759" width="3" height="6"/><rect x="1124" y="759" width="3" height="9"/><rect x="1140" y="742" width="3" height="18"/><rect x="1148" y="725" width="3" height="35"/><rect x="1156" y="733" width="3" height="27"/><rect x="1164" y="741" width="3" height="19"/><rect x="1172" y="753" width="3" height="7"/><rect x="1180" y="759" width="3" height="7"/><rect x="1188" y="759" width="3" height="5"/><rect x="1196" y="749" width="3" height="11"/><rect x="1204" y="732" width="3" height="28"/><rect x="1212" y="721" width="3" height="39"/><rect x="1220" y="712" width="3" height="48"/><rect x="1228" y="706" width="3" height="54"/><rect x="1236" y="694" width="3" height="66"/><rect x="1244" y="685" width="3" height="75"/><rect x="1252" y="681" width="3" height="79"/><rect x="1260" y="678" width="3" height="82"/><rect x="1268" y="678" width="3" height="82"/><rect x="1276" y="675" width="3" height="85"/><rect x="1284" y="674" width="3" height="86"/></g><polyline fill="none" stroke="#ff0000" stroke-width="2" stroke-linejoin="round" points="5.5,742.9 13.5,749.4 21.5,758.8 29.5,772.0 37.5,781.5 45.5,792.5 53.5,804.0 61.5,816.2 69.5,828.9 77.5,837.0 85.5,845.0 93.5,849.1 101.5,851.2 109.5,852.8 117.5,852.8 125.5,851.0 133.5,847.8 141.5,844.0 149.5,838.5 157.5,831.0 165.5,820.0 173.5,807.0 181.5,794.0 189.5,781.0 197.5,770.4 205.5,758.3 213.5,747.4 221.5,739.4 229.5,733.8 237.5,728.0 245.5,727.6 253.5,725.1 261.5,724.5 269.5,723.9 277.5,721.5 285.5,720.0 293.5,716.0 301.5,710.5 309.5,705.0 317.5,699.4 325.5,694.3 333.5,690.6 341.5,690.0 349.5,691.1 357.5,694.2 365.5,700.0 373.5,706.0 381.5,714.3 389.5,722.5 397.5,730.7 405.5,739.2 413.5,747.7 421.5,756.3 429.5,766.7 437.5,776.2 445.5,787.4 453.5,799.4 461.5,809.7 469.5,820.1 477.5,830.4 485.5,839.0 493.5,846.7 501.5,851.8 509.5,855.4 517.5,858.8 525.5,860.3 533.5,861.5 541.5,862.0 549.5,862.0 557.5,860.5 565.5,860.0 573.5,860.0 581.5,858.2 589.5,855.5 597.5,852.1 605.5,849.4 613.5,848.5 621.5,847.7 629.5,846.3 637.5,845.6 645.5,843.8 653.5,840.4 661.5,835.0 669.5,828.0 677.5,819.4 685.5,807.8 693.5,795.3 701.5,783.7 709.5,773.5 717.5,762.7 725.5,755.7 733.5,751.5 741.5,750.7 749.5,751.8 757.5,754.6 765.5,758.8 773.5,763.0 781.5,767.4 789.5,771.0 797.5,772.1 805.5,772.1 813.5,772.1 821.5,769.4 829.5,764.6 837.5,759.3 845.5,753.3 853.5,747.3 861.5,740.1 869.5,732.4 877.5,724.6 885.5,718.1 893.5,713.3 901.5,712.9 909.5,714.5 917.5,717.5 925.5,723.4 933.5,731.2 941.5,739.6 949.5,746.7 957.5,752.7 965.5,756.5 973.5,758.6 981.5,758.9 989.5,758.6 997.5,756.8 1005.5,753.8 1013.5,749.6 1021.5,746.0 1029.5,744.0 1037.5,743.3 1045.5,743.1 1053.5,743.3 1061.5,744.3 1069.5,745.1 1077.5,745.4 1085.5,746.3 1093.5,748.4 1101.5,751.4 1109.5,753.4 1117.5,755.6 1125.5,757.4 1133.5,758.0 1141.5,757.6 1149.5,754.3 1157.5,751.9 1165.5,751.1 1173.5,749.9 1181.5,749.9 1189.5,749.9 1197.5,748.4 1205.5,745.5 1213.5,742.2 1221.5,741.8 1229.5,738.5 1237.5,733.8 1245.5,725.7 1253.5,716.3 1261.5,706.4 1269.5,698.8 1277.5,692.4 1285.5,687.8"/>
</g>
<g fill="none" stroke="#000" stroke-width="1" shape-rendering="crispEdges">
<rect x="4.5" y="4.5" width="1623" height="657"/>
<rect x="4.5" y="663.5" width="1623" height="214"/>
</g>
<rect x="5" y="213" width="1623" height="3" fill="#0000cc"/>
<rect x="4" y="214" width="1626" height="1" fill="#0000cc"/>
<rect x="5" y="273" width="1623" height="3" fill="#0000cc"/>
<rect x="4" y="274" width="1626" height="1" fill="#0000cc"/>
<rect x="5" y="481" width="1623" height="3" fill="#0000cc"/>
<rect x="4" y="482" width="1626" height="1" fill="#0000cc"/>
<g fill="#ff0000"><line x1="1298" y1="215.3" x2="1323.5" y2="93" stroke="#ff0000" stroke-width="6.2" stroke-linecap="round"/><polygon points="1330.8,57.5 1311.8,90.5 1335.3,95.6"/></g><polygon points="1297,5 1307,5 1302,10" fill="#778899"/>

<rect x="1628" y="31" width="2" height="1" fill="#000"/>
<rect x="1628" y="64" width="2" height="1" fill="#000"/>
<rect x="1628" y="97" width="2" height="1" fill="#000"/>
<rect x="1628" y="130" width="2" height="1" fill="#000"/>
<rect x="1628" y="163" width="2" height="1" fill="#000"/>
<rect x="1628" y="196" width="2" height="1" fill="#000"/>
<rect x="1628" y="229" width="2" height="1" fill="#000"/>
<rect x="1628" y="262" width="2" height="1" fill="#000"/>
<rect x="1628" y="295" width="2" height="1" fill="#000"/>
<rect x="1628" y="328" width="2" height="1" fill="#000"/>
<rect x="1628" y="361" width="2" height="1" fill="#000"/>
<rect x="1628" y="394" width="2" height="1" fill="#000"/>
<rect x="1628" y="427" width="2" height="1" fill="#000"/>
<rect x="1628" y="460" width="2" height="1" fill="#000"/>
<rect x="1628" y="493" width="2" height="1" fill="#000"/>
<rect x="1628" y="526" width="2" height="1" fill="#000"/>
<rect x="1628" y="559" width="2" height="1" fill="#000"/>
<rect x="1628" y="592" width="2" height="1" fill="#000"/>
<rect x="1628" y="625" width="2" height="1" fill="#000"/>
<rect x="1628" y="658" width="2" height="1" fill="#000"/>
<rect x="1629" y="173" width="41" height="11" fill="#000"/>
<rect x="1629" y="208" width="41" height="11" fill="#0000cc"/>
<rect x="1629" y="268" width="41" height="11" fill="#0000cc"/>
<rect x="1629" y="476" width="41" height="11" fill="#0000cc"/>
<rect x="1628" y="665" width="2" height="1" fill="#000"/>
<rect x="1628" y="759" width="2" height="1" fill="#000"/>
<rect x="1628" y="876" width="2" height="1" fill="#000"/>
<rect x="5" y="878" width="1" height="3" fill="#000"/>
<rect x="69" y="878" width="1" height="3" fill="#000"/>
<rect x="133" y="878" width="1" height="3" fill="#000"/>
<rect x="197" y="878" width="1" height="3" fill="#000"/>
<rect x="261" y="878" width="1" height="3" fill="#000"/>
<rect x="325" y="878" width="1" height="3" fill="#000"/>
<rect x="389" y="878" width="1" height="3" fill="#000"/>
<rect x="453" y="878" width="1" height="3" fill="#000"/>
<rect x="517" y="878" width="1" height="3" fill="#000"/>
<rect x="581" y="878" width="1" height="3" fill="#000"/>
<rect x="645" y="878" width="1" height="3" fill="#000"/>
<rect x="709" y="878" width="1" height="3" fill="#000"/>
<rect x="773" y="878" width="1" height="3" fill="#000"/>
<rect x="837" y="878" width="1" height="3" fill="#000"/>
<rect x="901" y="878" width="1" height="3" fill="#000"/>
<rect x="965" y="878" width="1" height="3" fill="#000"/>
<rect x="1029" y="878" width="1" height="3" fill="#000"/>
<rect x="1093" y="878" width="1" height="3" fill="#000"/>
<rect x="1157" y="878" width="1" height="3" fill="#000"/>
<rect x="1221" y="878" width="1" height="3" fill="#000"/>
<rect x="1285" y="878" width="1" height="3" fill="#000"/>
<polygon points="8,11 15,11 11.5,15" fill="#000"/>
<g font-family="Liberation Sans, sans-serif" font-size="9.75" fill="#000" stroke="#000" stroke-width="0.15" style="white-space:pre"><text x="1633" y="35" textLength="33" lengthAdjust="spacingAndGlyphs">33814.0</text><text x="1633" y="68" textLength="33" lengthAdjust="spacingAndGlyphs">33703.0</text><text x="1633" y="101" textLength="33" lengthAdjust="spacingAndGlyphs">33595.0</text><text x="1633" y="134" textLength="33" lengthAdjust="spacingAndGlyphs">33484.0</text><text x="1633" y="167" textLength="33" lengthAdjust="spacingAndGlyphs">33373.0</text><text x="1633" y="200" textLength="33" lengthAdjust="spacingAndGlyphs">33262.0</text><text x="1633" y="233" textLength="33" lengthAdjust="spacingAndGlyphs">33151.0</text><text x="1633" y="266" textLength="33" lengthAdjust="spacingAndGlyphs">33040.0</text><text x="1633" y="299" textLength="33" lengthAdjust="spacingAndGlyphs">32929.0</text><text x="1633" y="332" textLength="33" lengthAdjust="spacingAndGlyphs">32818.0</text><text x="1633" y="365" textLength="33" lengthAdjust="spacingAndGlyphs">32707.0</text><text x="1633" y="398" textLength="33" lengthAdjust="spacingAndGlyphs">32596.0</text><text x="1633" y="431" textLength="33" lengthAdjust="spacingAndGlyphs">32485.0</text><text x="1633" y="464" textLength="33" lengthAdjust="spacingAndGlyphs">32374.0</text><text x="1633" y="497" textLength="33" lengthAdjust="spacingAndGlyphs">32263.0</text><text x="1633" y="530" textLength="33" lengthAdjust="spacingAndGlyphs">32152.0</text><text x="1633" y="563" textLength="33" lengthAdjust="spacingAndGlyphs">32044.0</text><text x="1633" y="596" textLength="33" lengthAdjust="spacingAndGlyphs">31933.0</text><text x="1633" y="629" textLength="33" lengthAdjust="spacingAndGlyphs">31822.0</text><text x="1633" y="662" textLength="33" lengthAdjust="spacingAndGlyphs">31711.0</text><text x="1633" y="182" fill="#fff" stroke="#fff" textLength="33" lengthAdjust="spacingAndGlyphs">33321.5</text><text x="1633" y="217" fill="#fff" stroke="#fff" textLength="33" lengthAdjust="spacingAndGlyphs">33200.0</text><text x="1633" y="277" fill="#fff" stroke="#fff" textLength="33" lengthAdjust="spacingAndGlyphs">33000.0</text><text x="1633" y="485" fill="#fff" stroke="#fff" textLength="33" lengthAdjust="spacingAndGlyphs">32302.7</text><text x="1631" y="674" textLength="29" lengthAdjust="spacingAndGlyphs">203.83</text><text x="1631" y="763" textLength="18" lengthAdjust="spacingAndGlyphs">0.00</text><text x="1631" y="874" textLength="31" lengthAdjust="spacingAndGlyphs">-254.28</text><text x="4" y="890" textLength="49.9" lengthAdjust="spacingAndGlyphs">23 Jun 2023</text><text x="68" y="890" textLength="52.5" lengthAdjust="spacingAndGlyphs">26 Jun 10:55</text><text x="132" y="890" textLength="52.5" lengthAdjust="spacingAndGlyphs">27 Jun 18:55</text><text x="196" y="890" textLength="52.5" lengthAdjust="spacingAndGlyphs">29 Jun 00:00</text><text x="260" y="890" textLength="52.5" lengthAdjust="spacingAndGlyphs">30 Jun 10:55</text><text x="324" y="890" textLength="44.4" lengthAdjust="spacingAndGlyphs">3 Jul 23:30</text><text x="388" y="890" textLength="44.4" lengthAdjust="spacingAndGlyphs">5 Jul 10:55</text><text x="452" y="890" textLength="44.4" lengthAdjust="spacingAndGlyphs">6 Jul 18:55</text><text x="516" y="890" textLength="49.4" lengthAdjust="spacingAndGlyphs">10 Jul 04:00</text><text x="580" y="890" textLength="48.8" lengthAdjust="spacingAndGlyphs">11 Jul 14:55</text><text x="644" y="890" textLength="49.4" lengthAdjust="spacingAndGlyphs">12 Jul 23:30</text><text x="708" y="890" textLength="49.4" lengthAdjust="spacingAndGlyphs">14 Jul 04:00</text><text x="772" y="890" textLength="49.4" lengthAdjust="spacingAndGlyphs">17 Jul 14:55</text><text x="836" y="890" textLength="49.4" lengthAdjust="spacingAndGlyphs">18 Jul 23:30</text><text x="900" y="890" textLength="49.4" lengthAdjust="spacingAndGlyphs">20 Jul 04:00</text><text x="964" y="890" textLength="49.4" lengthAdjust="spacingAndGlyphs">21 Jul 14:55</text><text x="1028" y="890" textLength="49.4" lengthAdjust="spacingAndGlyphs">24 Jul 23:30</text><text x="1092" y="890" textLength="49.4" lengthAdjust="spacingAndGlyphs">26 Jul 04:00</text><text x="1156" y="890" textLength="49.4" lengthAdjust="spacingAndGlyphs">27 Jul 14:55</text><text x="1220" y="890" textLength="49.4" lengthAdjust="spacingAndGlyphs">30 Jul 23:30</text><text x="1284" y="890" textLength="48.4" lengthAdjust="spacingAndGlyphs">1 Aug 04:00</text><text x="20" y="16" textLength="50" lengthAdjust="spacingAndGlyphs">JPN225-,H4</text><text x="76" y="16" textLength="33" lengthAdjust="spacingAndGlyphs">33343.7</text><text x="112.3" y="16" textLength="33" lengthAdjust="spacingAndGlyphs">33460.4</text><text x="148.3" y="16" textLength="33" lengthAdjust="spacingAndGlyphs">33288.5</text><text x="184.1" y="16" textLength="33" lengthAdjust="spacingAndGlyphs">33321.5</text><text x="9" y="675.5" textLength="128" lengthAdjust="spacingAndGlyphs">MACD(12,26,9) 183.01 154.95</text></g></svg></body></html>
